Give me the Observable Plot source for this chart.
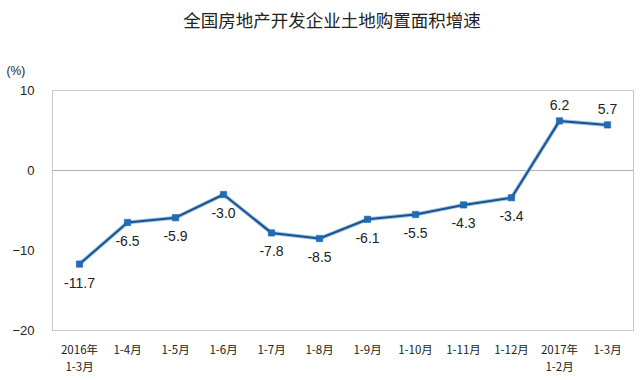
<!DOCTYPE html>
<html><head><meta charset="utf-8">
<script src="https://cdn.jsdelivr.net/npm/d3@7"></script>
<script src="https://cdn.jsdelivr.net/npm/@observablehq/plot@0.6"></script>
<style>
html,body{margin:0;padding:0;background:#fff;}
#title{height:44px;line-height:40px;text-align:center;font-family:"Noto Sans CJK SC",sans-serif;font-size:17.5px;color:#222;padding-left:24px;box-sizing:border-box;}
</style></head>
<body>
<div id="title">全国房地产开发企业土地购置面积增速</div>
<div id="chart"></div>
<script>
const categories = ["2016年\n1-3月","1-4月","1-5月","1-6月","1-7月","1-8月","1-9月","1-10月","1-11月","1-12月","2017年\n1-2月","1-3月"];
const values = [-11.7,-6.5,-5.9,-3.0,-7.8,-8.5,-6.1,-5.5,-4.3,-3.4,6.2,5.7];
const yTicks = [10,0,-10,-20];
const unitLabel = "(%)";
const data = categories.map((c,i)=>({c, v: values[i]}));
const above = d => d.v > 0;

const chart = Plot.plot({
  width: 640, height: 336,
  marginTop: 46, marginBottom: 50, marginLeft: 52, marginRight: 7,
  style: {fontFamily: "Liberation Sans, Arial, sans-serif", background: "#fff"},
  x: {type: "point", domain: categories, padding: 0.5, label: null},
  y: {domain: [-20, 10], label: null},
  marks: [
    Plot.frame({stroke: "#c8c8c8"}),
    Plot.ruleY([0], {stroke: "#b0b0b0"}),
    Plot.axisY({ticks: yTicks, tickSize: 0, tickPadding: 18, fontSize: 13, fill: "#222", label: null}),
    Plot.axisX({tickSize: 0, tickPadding: 12, fontSize: 11.5, fill: "#222", label: null,
      fontFamily: "Noto Sans CJK SC, sans-serif", lineHeight: 1.45}),
    Plot.line(data, {x: "c", y: "v", stroke: "#9cc3e6", strokeWidth: 4}),
    Plot.line(data, {x: "c", y: "v", stroke: "#1d5189", strokeWidth: 2}),
    Plot.dot(data, {x: "c", y: "v", symbol: "square", r: 3.6, fill: "#1f6cb8", stroke: "#1a5fa3", strokeWidth: 0.5}),
    Plot.text(data.filter(d => !above(d)), {x: "c", y: "v", text: d => d.v.toFixed(1), dy: 19, fontSize: 14, fill: "#222"}),
    Plot.text(data.filter(above), {x: "c", y: "v", text: d => d.v.toFixed(1), dy: -15, fontSize: 14, fill: "#222"}),
    Plot.text([unitLabel], {frameAnchor: "top-left", text: d => d, dx: -46, dy: -24, fontSize: 12, fill: "#222", textAnchor: "start"})
  ]
});
document.getElementById("chart").appendChild(chart);
</script>
</body></html>
